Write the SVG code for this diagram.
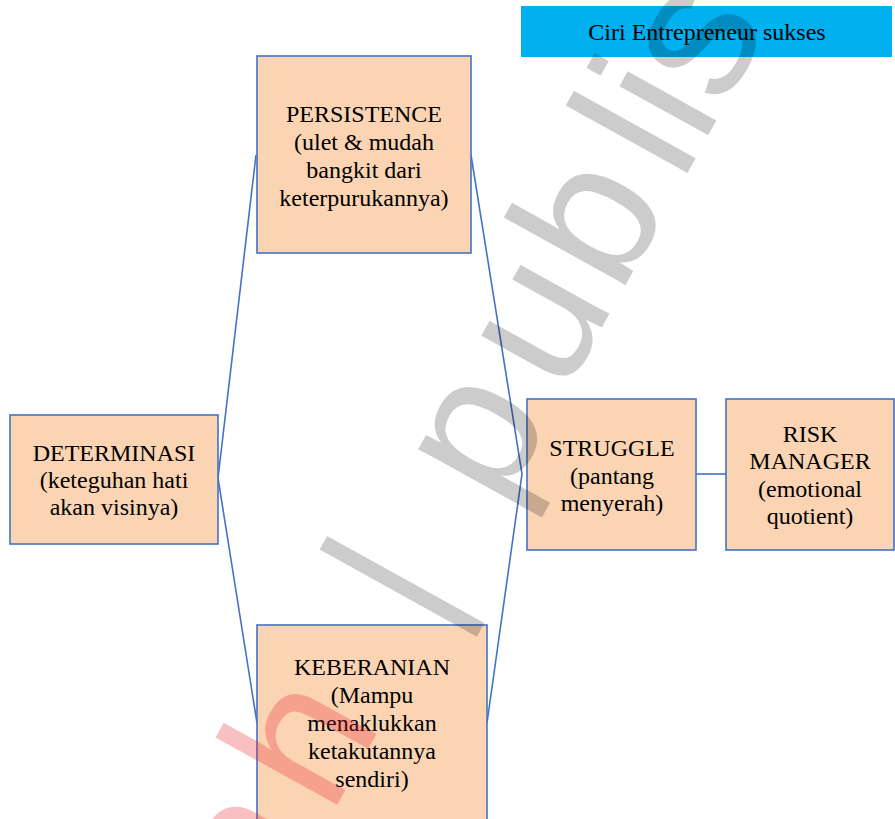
<svg xmlns="http://www.w3.org/2000/svg" width="895" height="819" viewBox="0 0 895 819">
<style>
.box{fill:#FBD4B4;stroke:#4472C4;stroke-width:1.6}
.t{font-family:"Liberation Serif","Times New Roman",serif;font-size:24px;fill:#000;text-anchor:middle}
.con{fill:none;stroke:#4472C4;stroke-width:1.6}
.wm{font-family:"Liberation Sans",Arial,sans-serif;font-size:192px}
</style>
<rect width="895" height="819" fill="#fff"/>
<g id="connectors">
<polyline class="con" points="256,155 218,478 257,723"/>
<polyline class="con" points="471,155 522,474 487,723"/>
<line class="con" x1="696" y1="474" x2="726" y2="474"/>
</g>
<g id="title">
<rect x="521" y="6" width="371" height="51" fill="#00B0F0"/>
<text class="t" x="707" y="40">Ciri Entrepreneur sukses</text>
</g>
<g id="persistence">
<rect class="box" x="257" y="56" width="214" height="197"/>
<text class="t"><tspan x="364" y="122">PERSISTENCE</tspan><tspan x="364" y="150">(ulet &amp; mudah</tspan><tspan x="364" y="178">bangkit dari</tspan><tspan x="364" y="206">keterpurukannya)</tspan></text>
</g>
<g id="determinasi">
<rect class="box" x="10" y="415" width="208" height="129"/>
<text class="t"><tspan x="114" y="461">DETERMINASI</tspan><tspan x="114" y="488">(keteguhan hati</tspan><tspan x="114" y="515">akan visinya)</tspan></text>
</g>
<g id="struggle">
<rect class="box" x="527" y="399" width="169" height="151"/>
<text class="t"><tspan x="612" y="456">STRUGGLE</tspan><tspan x="612" y="484">(pantang</tspan><tspan x="612" y="511">menyerah)</tspan></text>
</g>
<g id="risk-manager">
<rect class="box" x="726" y="399" width="168" height="151"/>
<text class="t"><tspan x="810" y="442">RISK</tspan><tspan x="810" y="469">MANAGER</tspan><tspan x="810" y="497">(emotional</tspan><tspan x="810" y="524">quotient)</tspan></text>
</g>
<g id="keberanian">
<rect class="box" x="257" y="625" width="230" height="200"/>
<text class="t"><tspan x="372" y="675">KEBERANIAN</tspan><tspan x="372" y="703">(Mampu</tspan><tspan x="372" y="731">menaklukkan</tspan><tspan x="372" y="759">ketakutannya</tspan><tspan x="372" y="787">sendiri)</tspan></text>
</g>
<g id="watermark" transform="translate(433,632) rotate(-61)">
<text class="wm" fill="#e61e28" fill-opacity="0.28" x="-336 -211" y="0">ah</text>
<text class="wm" fill="#000" fill-opacity="0.2" x="0 140 270 384 512 555 598 712" y="0">|publish</text>
</g>
</svg>
